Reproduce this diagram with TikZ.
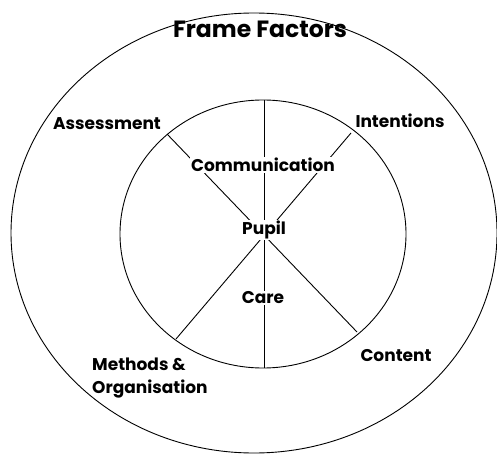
\documentclass[tikz,border=0pt]{standalone}
\usepackage{fontspec}
\setmainfont{Poppins}
\begin{document}
\begin{tikzpicture}[x=1pt,y=-1pt,
  ring/.style={draw=black, line width=0.9pt},
  spoke/.style={draw=black, line width=0.9pt},
  factor/.style={font=\bfseries\fontsize{17}{23}\selectfont, inner sep=1pt},
  core/.style={font=\bfseries\fontsize{17}{23}\selectfont, fill=white, inner sep=1pt},
  title/.style={font=\bfseries\fontsize{23.5}{26}\selectfont, inner sep=0pt}]
\useasboundingbox (0,0) rectangle (497,454);
% two rings
\draw[ring] (254,233) ellipse [x radius=243, y radius=220];
\draw[ring] (263,234) ellipse [x radius=143, y radius=134];
% spoke ends on the inner ring
\coordinate (top) at (264,100);
\coordinate (bottom) at (264,368);
\coordinate (ul) at (167,134);
\coordinate (ur) at (351,133);
\coordinate (ll) at (176,339);
\coordinate (lr) at (357,332);
\draw[spoke] (top) -- (bottom);
\draw[spoke] (ul) -- (lr);
\draw[spoke] (ur) -- (ll);
% labels
\node[title] (frame) at (260,29) {Frame Factors};
\node[factor] (assess) at (107,124) {Assessment};
\node[factor] (intent) at (400,121) {Intentions};
\node[factor] (content) at (396,356) {Content};
\node[factor, align=left, anchor=west] (methods) at (91,378) {Methods \&\\Organisation};
\node[core] (comm) at (263,165) {Communication};
\node[core] (pupil) at (264,230) {Pupil};
\node[core] (care) at (263,298) {Care};
\end{tikzpicture}
\end{document}
